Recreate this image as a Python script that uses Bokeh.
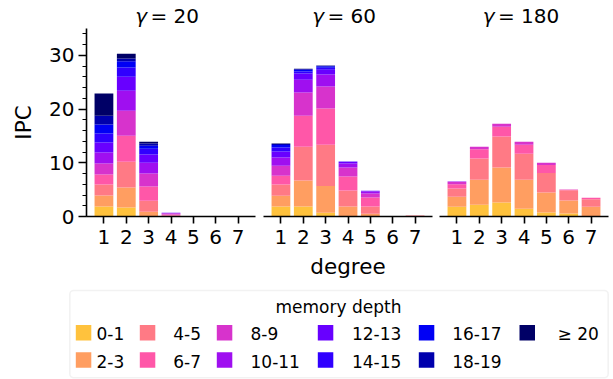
from bokeh.plotting import figure
from bokeh.layouts import column, row
from bokeh.models import (ColumnDataSource, Range1d, FixedTicker,
                          SingleIntervalTicker, BoxAnnotation)
from bokeh.core.properties import value
from bokeh.embed import file_html
from bokeh.resources import INLINE

FONT = "DejaVu Sans"

degrees = [1, 2, 3, 4, 5, 6, 7]
depths = ["0-1", "2-3", "4-5", "6-7", "8-9", "10-11", "12-13",
          "14-15", "16-17", "18-19", "≥ 20"]
gammas = [20, 60, 180]
colors = ["#FFC23D", "#FF9E61", "#FF7A85", "#FF57A8", "#D733CC", "#9F0FF0",
          "#6800FF", "#3000FF", "#0000F5", "#0000AD", "#000066"]

# IPC contribution of each memory-depth bin, for degree 1..7
gamma20 = {
    "0-1":   [1.86, 1.68, 0.05, 0.00, 0, 0, 0],
    "2-3":   [2.05, 3.72, 0.82, 0.08, 0, 0, 0],
    "4-5":   [2.05, 4.79, 2.05, 0.12, 0, 0, 0],
    "6-7":   [1.86, 4.84, 2.67, 0.18, 0, 0, 0],
    "8-9":   [2.05, 4.67, 2.41, 0.16, 0, 0, 0],
    "10-11": [2.05, 3.70, 2.00, 0.12, 0, 0, 0],
    "12-13": [1.86, 2.60, 1.55, 0.03, 0, 0, 0],
    "14-15": [1.68, 1.75, 1.05, 0.00, 0, 0, 0],
    "16-17": [1.67, 1.15, 0.57, 0.00, 0, 0, 0],
    "18-19": [1.62, 0.50, 0.43, 0.00, 0, 0, 0],
    "≥ 20":  [4.15, 0.90, 0.30, 0.00, 0, 0, 0],
}
gamma60 = {
    "0-1":   [1.86, 1.86, 0.69, 0.00, 0.00, 0, 0.00],
    "2-3":   [1.99, 4.84, 5.01, 1.86, 0.50, 0, 0.05],
    "4-5":   [2.11, 6.30, 7.65, 2.98, 1.36, 0, 0.12],
    "6-7":   [1.62, 5.75, 6.75, 2.61, 1.68, 0, 0.00],
    "8-9":   [1.86, 4.35, 4.10, 1.67, 0.74, 0, 0.00],
    "10-11": [1.56, 2.35, 2.25, 0.75, 0.38, 0, 0.00],
    "12-13": [1.10, 1.15, 0.85, 0.32, 0.14, 0, 0.00],
    "14-15": [0.75, 0.40, 0.40, 0.06, 0.00, 0, 0.00],
    "16-17": [0.45, 0.30, 0.25, 0.00, 0.00, 0, 0.00],
    "18-19": [0.20, 0.15, 0.10, 0.00, 0.00, 0, 0.00],
    "≥ 20":  [0.10, 0.05, 0.05, 0.00, 0.00, 0, 0.00],
}
gamma180 = {
    "0-1":   [1.80, 2.18, 2.60, 1.43, 0.75, 0.56, 0.05],
    "2-3":   [1.87, 4.65, 6.50, 5.40, 3.72, 2.44, 1.75],
    "4-5":   [1.55, 3.97, 5.80, 4.85, 3.63, 1.90, 1.43],
    "6-7":   [0.78, 1.70, 1.80, 1.67, 1.50, 0.10, 0.27],
    "8-9":   [0.40, 0.50, 0.56, 0.55, 0.40, 0.02, 0.00],
    "10-11": [0.10, 0.00, 0.00, 0.00, 0.00, 0.00, 0.00],
    "12-13": [0, 0, 0, 0, 0, 0, 0],
    "14-15": [0, 0, 0, 0, 0, 0, 0],
    "16-17": [0, 0, 0, 0, 0, 0, 0],
    "18-19": [0, 0, 0, 0, 0, 0, 0],
    "≥ 20":  [0, 0, 0, 0, 0, 0, 0],
}
panels = [gamma20, gamma60, gamma180]

TITLE_H, FRAME_H, BOTTOM = 28, 188, 70
FRAME_W = 169
LEFTS = [86, 4, 4]
RIGHTS = [4, 3, 5]


def make_panel(data, idx):
    left, right = LEFTS[idx], RIGHTS[idx]
    p = figure(width=left + FRAME_W + right, height=FRAME_H + BOTTOM,
               x_range=Range1d(0.22, 7.78), y_range=Range1d(0, 35),
               output_backend="svg", toolbar_location=None,
               min_border_left=left, min_border_right=right,
               min_border_top=0, min_border_bottom=BOTTOM,
               y_axis_location="left" if idx == 0 else None)
    src = dict(degree=degrees)
    for d in depths:
        src[d] = data[d]
    p.vbar_stack(depths, x="degree", width=0.84, color=colors,
                 line_color=None, source=ColumnDataSource(src))
    p.grid.visible = False
    p.outline_line_color = None
    p.background_fill_color = "white"
    p.border_fill_color = "white"

    xa = p.xaxis[0]
    xa.ticker = FixedTicker(ticks=degrees)
    xa.major_tick_in = 0
    xa.major_tick_out = 7
    xa.minor_tick_in = 0
    xa.minor_tick_out = 0
    xa.axis_line_width = 1.6
    xa.major_tick_line_width = 1.6
    xa.axis_line_color = "black"
    xa.major_tick_line_color = "black"
    xa.major_label_standoff = 6
    xa.major_label_text_font = FONT
    xa.major_label_text_font_size = "20px"
    xa.major_label_text_color = "black"
    if idx == 1:
        xa.axis_label = "degree"
        xa.axis_label_text_font = FONT
        xa.axis_label_text_font_size = "21.5px"
        xa.axis_label_text_font_style = "normal"
        xa.axis_label_text_color = "black"
        xa.axis_label_standoff = 7

    if idx == 0:
        ya = p.yaxis[0]
        ya.ticker = SingleIntervalTicker(interval=10, num_minor_ticks=5)
        ya.major_tick_in = 0
        ya.major_tick_out = 8
        ya.minor_tick_in = 0
        ya.minor_tick_out = 4
        ya.axis_line_width = 1.6
        ya.major_tick_line_width = 1.6
        ya.minor_tick_line_width = 1.2
        ya.axis_line_color = "black"
        ya.major_tick_line_color = "black"
        ya.minor_tick_line_color = "black"
        ya.major_label_standoff = 4
        ya.major_label_text_font = FONT
        ya.major_label_text_font_size = "20px"
        ya.major_label_text_color = "black"
        ya.axis_label = "IPC"
        ya.axis_label_text_font = FONT
        ya.axis_label_text_font_size = "21.5px"
        ya.axis_label_text_font_style = "normal"
        ya.axis_label_text_color = "black"
        ya.axis_label_standoff = 10
    return p


figs = [make_panel(d, i) for i, d in enumerate(panels)]

# ---- strip with the panel titles "γ = N" (page pixel coords, y down)
tt = figure(width=613, height=TITLE_H, x_range=Range1d(0, 613),
            y_range=Range1d(TITLE_H, 0), min_border=0,
            x_axis_location=None, y_axis_location=None,
            output_backend="svg", toolbar_location=None)
tt.grid.visible = False
tt.outline_line_color = None
tt.background_fill_color = "white"
tt.border_fill_color = "white"
centers, acc = [], 0
for i in range(3):
    centers.append(acc + LEFTS[i] + FRAME_W / 2)
    acc += LEFTS[i] + FRAME_W + RIGHTS[i]
eq_shift = [-20.5, -20.5, -26.0]
g_x = [c + s - 3.5 for c, s in zip(centers, eq_shift)]
e_x = [c + s for c, s in zip(centers, eq_shift)]
t_y = 15.8
tt.text(x=g_x, y=[t_y] * 3, text=["γ"] * 3, text_align="right",
        text_baseline="middle", text_font=value(FONT),
        text_font_style="italic", text_font_size="20px", text_color="black")
tt.text(x=e_x, y=[t_y] * 3, text=["= %d" % g for g in gammas],
        text_align="left", text_baseline="middle", text_font=value(FONT),
        text_font_size="20px", text_color="black")

# ---- legend panel (page pixel coordinates, y downward)
leg = figure(width=613, height=93, x_range=Range1d(0, 613),
             y_range=Range1d(379, 286), min_border=0,
             x_axis_location=None, y_axis_location=None,
             output_backend="svg", toolbar_location=None)
leg.grid.visible = False
leg.outline_line_color = None
leg.background_fill_color = "white"
leg.border_fill_color = "white"
leg.add_layout(BoxAnnotation(left=69.3, right=607.7, top=290, bottom=377.3,
                             fill_color=None, line_color="#d3d3d3",
                             line_width=1.6, border_radius=4))
leg.text(x=[338], y=[306.1], text=["memory depth"], text_align="center",
         text_baseline="middle", text_font=value(FONT),
         text_font_size="17px", text_color="black")

sw_left = [75.3, 139.3, 216.3, 317.3, 418.3, 519.0]
tx_left = [96.0, 172.7, 250.0, 351.4, 451.7, 557.0]
sw_cy = [332.2, 359.5]
tx_mid = [333.4, 360.8]
SW = 15.5
sx, sy, tx, ty = [], [], [], []
for i, d in enumerate(depths):
    c, r = i // 2, i % 2
    sx.append(sw_left[c] + SW / 2)
    sy.append(sw_cy[r])
    tx.append(tx_left[c])
    ty.append(tx_mid[r])
leg.rect(x=sx, y=sy, width=SW, height=SW, fill_color=colors, line_color=None)
leg.text(x=tx, y=ty, text=depths, text_align="left",
         text_baseline="middle", text_font=value(FONT),
         text_font_size="17px", text_color="black")

layout = column(tt, row(*figs, spacing=0), leg, spacing=0)
open("out.html", "w").write(file_html(layout, INLINE))
